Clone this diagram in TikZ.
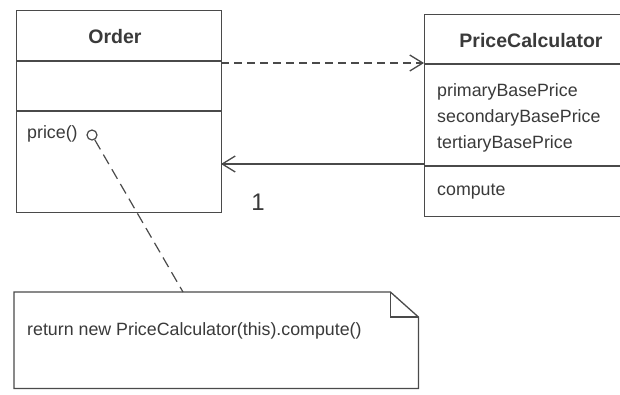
\documentclass[tikz,border=0pt]{standalone}
\usepackage{fontspec}
\setmainfont{Liberation Sans}
\usetikzlibrary{arrows.meta,calc}
\definecolor{ink}{HTML}{4A4A4A}
\definecolor{txt}{HTML}{3A3A3A}
\tikzset{
  umlbox/.style={draw=ink, line width=1.3pt, rectangle, inner sep=0pt, anchor=north west},
  rule/.style={draw=ink, line width=1.3pt},
  classname/.style={font=\fontsize{19.5}{22}\selectfont\bfseries, text=txt},
  member/.style={font=\fontsize{17.8}{20}\selectfont, text=txt, anchor=west, inner sep=0pt},
  dep/.style={draw=ink, line width=1.3pt, dash pattern=on 8pt off 5pt, -{Straight Barb[length=13pt,width=16pt,line width=1.3pt]}},
  assoc/.style={draw=ink, line width=1.3pt, -{Straight Barb[length=13pt,width=16pt,line width=1.3pt]}},
  noteline/.style={draw=ink, line width=1.2pt, dash pattern=on 11pt off 6pt},
}
\begin{document}
\begin{tikzpicture}[x=1pt, y=-1pt]
  \clip (0,0) rectangle (620,394);
  \fill[white] (0,0) rectangle (620,394);

  % class Order
  \node[umlbox, minimum width=205pt, minimum height=202pt] (order) at (16,10) {};
  \draw[rule] (16,61) -- (221,61);
  \draw[rule] (16,111) -- (221,111);
  \node[classname] (ordername) at (115,37) {Order};
  \node[member] (price) at (27,134) {price()};
  \node[draw=ink, line width=1.2pt, circle, minimum size=10pt, inner sep=0pt] (pricemark) at (92,135) {};

  % class PriceCalculator (runs past the right edge)
  \node[umlbox, minimum width=230pt, minimum height=202pt] (pc) at (424,14) {};
  \draw[rule] (424,64) -- (654,64);
  \draw[rule] (424,166) -- (654,166);
  \node[classname] (pcname) at (531,41) {PriceCalculator};
  \node[member] (a1) at (437,92) {primaryBasePrice};
  \node[member] (a2) at (437,118) {secondaryBasePrice};
  \node[member] (a3) at (437,144) {tertiaryBasePrice};
  \node[member] (m1) at (437,192) {compute};

  % connectors between the classes
  \coordinate (depfrom) at (221,63);
  \coordinate (depto) at (424,63);
  \draw[dep] (depfrom) -- (depto);
  \coordinate (assocfrom) at (424,164);
  \coordinate (assocto) at (221,164);
  \draw[assoc] (assocfrom) -- (assocto);
  \node[font=\fontsize{24}{26}\selectfont, text=txt] (mult) at (258,202) {1};

  % note attached to price()
  \node[inner sep=0pt, minimum width=404pt, minimum height=96pt, anchor=north west] (note) at (14,292) {};
  \draw[draw=ink, line width=1.3pt]
    (note.north west) -- ($(note.north east)+(-28,0)$) -- ($(note.north east)+(0,25)$)
    -- (note.south east) -- (note.south west) -- cycle;
  \draw[draw=ink, line width=1.2pt]
    ($(note.north east)+(-28,0)$) -- ($(note.north east)+(-28,25)$) -- ($(note.north east)+(0,25)$);
  \node[member] (notetext) at (27,331) {return new PriceCalculator(this).compute()};
  \coordinate (noteanchor) at (183,292);
  \draw[noteline] (pricemark) -- (noteanchor);
\end{tikzpicture}
\end{document}
